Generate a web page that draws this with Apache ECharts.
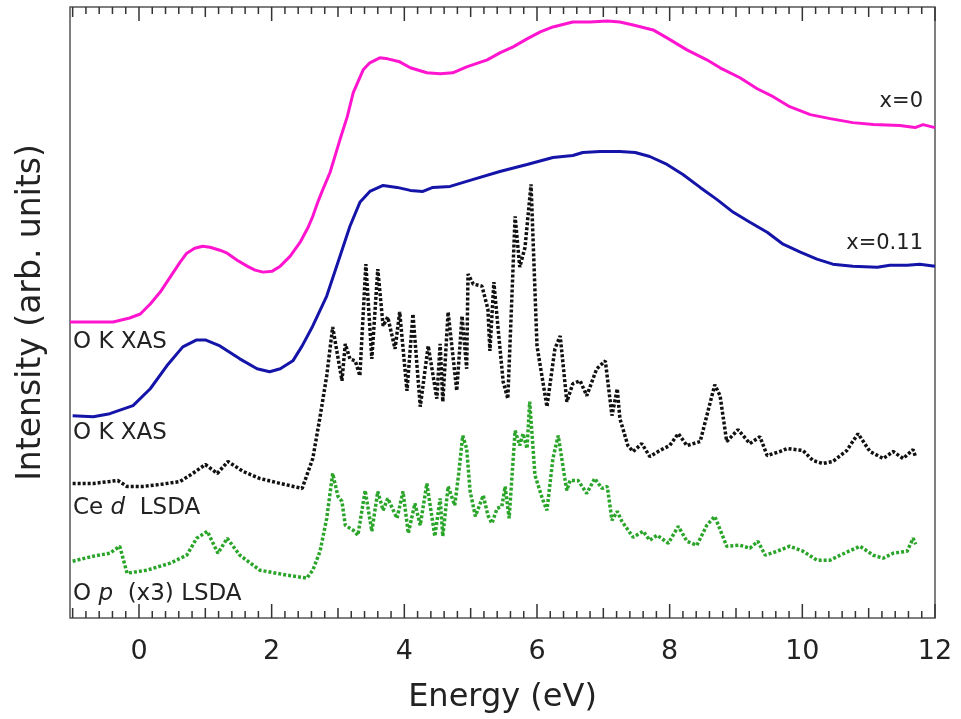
<!DOCTYPE html>
<html>
<head>
<meta charset="utf-8">
<script src="https://cdn.jsdelivr.net/npm/echarts@6/dist/echarts.min.js"></script>
<style>
html, body { margin: 0; padding: 0; background: #fff; }
#chart { width: 961px; height: 719px; }
</style>
</head>
<body>
<div id="chart"></div>
<script>
// energy (eV), intensity (arb. units)
const xasX0 = [
    [-1.04, 297], [-0.74, 297], [-0.39, 297], [-0.14, 301], [0.02, 305], [0.17, 315], [0.32, 327],
    [0.47, 342], [0.62, 357], [0.72, 366], [0.84, 371], [0.96, 373], [1.07, 372], [1.22, 369],
    [1.33, 366], [1.48, 359], [1.63, 353], [1.75, 349], [1.87, 347], [2.01, 348], [2.13, 353],
    [2.28, 363], [2.43, 377], [2.55, 392], [2.62, 403], [2.70, 418], [2.76, 428], [2.88, 447],
    [3.03, 480], [3.14, 503], [3.23, 527], [3.38, 550], [3.48, 557], [3.63, 562], [3.75, 561],
    [3.93, 558], [4.09, 552], [4.34, 547], [4.54, 546], [4.73, 547], [4.94, 553], [5.25, 560],
    [5.44, 567], [5.64, 573], [5.85, 581], [6.05, 588], [6.24, 593], [6.54, 598], [6.80, 598],
    [7.06, 599], [7.25, 598], [7.45, 595], [7.75, 590], [7.96, 582], [8.26, 570], [8.56, 560],
    [8.76, 552], [9.06, 542], [9.32, 531], [9.56, 523], [9.81, 513], [10.12, 505], [10.42, 501],
    [10.76, 497], [11.07, 495], [11.47, 494], [11.70, 492], [11.82, 495], [12.0, 492]
];
const xasX011 = [
    [-1.0, 203], [-0.69, 202], [-0.44, 205], [-0.09, 213], [0.17, 230], [0.42, 253], [0.66, 272],
    [0.87, 279], [1.0, 279], [1.22, 273], [1.52, 260], [1.78, 250], [1.97, 247], [2.13, 250],
    [2.32, 258], [2.46, 273], [2.62, 293], [2.83, 323], [3.03, 363], [3.18, 393], [3.33, 417],
    [3.48, 428], [3.68, 434], [3.89, 432], [4.09, 429], [4.28, 428], [4.43, 432], [4.69, 433],
    [5.04, 440], [5.44, 448], [5.85, 455], [6.24, 462], [6.54, 464], [6.69, 467], [6.95, 468],
    [7.25, 468], [7.48, 467], [7.70, 463], [7.96, 455], [8.20, 445], [8.46, 432], [8.71, 420],
    [8.96, 407], [9.21, 397], [9.47, 387], [9.71, 375], [9.97, 367], [10.22, 360], [10.46, 355],
    [10.76, 353], [11.13, 352], [11.32, 354], [11.58, 354], [11.77, 355], [12.0, 353]
];
const ceD = [
    [-1.0, 135], [-0.69, 135], [-0.44, 137], [-0.32, 138], [-0.18, 132], [0.06, 132], [0.32, 134],
    [0.62, 137], [0.81, 145], [1.0, 154], [1.18, 145], [1.34, 157], [1.57, 147], [1.82, 140],
    [2.13, 135], [2.46, 130], [2.62, 160], [2.73, 202], [2.83, 243], [2.92, 292], [3.06, 238],
    [3.11, 275], [3.18, 260], [3.26, 258], [3.33, 243], [3.42, 355], [3.51, 260], [3.60, 350],
    [3.68, 293], [3.75, 302], [3.86, 270], [3.93, 307], [4.04, 228], [4.13, 305], [4.24, 212],
    [4.36, 273], [4.49, 220], [4.54, 275], [4.58, 217], [4.66, 307], [4.79, 228], [4.87, 303],
    [4.94, 250], [4.96, 345], [5.04, 335], [5.17, 333], [5.26, 310], [5.29, 268], [5.35, 337],
    [5.41, 293], [5.49, 237], [5.56, 220], [5.67, 403], [5.74, 352], [5.82, 372], [5.91, 435],
    [6.0, 273], [6.15, 212], [6.27, 270], [6.35, 283], [6.45, 217], [6.54, 235], [6.65, 238],
    [6.75, 223], [6.90, 250], [7.03, 258], [7.13, 203], [7.21, 230], [7.25, 200], [7.37, 173],
    [7.45, 167], [7.58, 175], [7.70, 162], [7.85, 168], [8.0, 173], [8.13, 185], [8.26, 173],
    [8.46, 177], [8.56, 203], [8.68, 234], [8.76, 223], [8.86, 177], [9.03, 189], [9.21, 175],
    [9.36, 182], [9.47, 163], [9.66, 167], [9.77, 170], [10.01, 168], [10.16, 158], [10.31, 155],
    [10.46, 157], [10.67, 168], [10.84, 185], [11.02, 167], [11.22, 160], [11.37, 167],
    [11.52, 160], [11.67, 169], [11.71, 161]
];
const oP = [
    [-1.0, 57], [-0.69, 62], [-0.44, 65], [-0.29, 72], [-0.18, 45], [0.12, 48], [0.47, 55],
    [0.72, 63], [0.87, 80], [1.03, 87], [1.19, 65], [1.33, 80], [1.52, 63], [1.82, 48],
    [2.23, 43], [2.53, 40], [2.62, 48], [2.73, 67], [2.83, 100], [2.92, 145], [3.0, 122],
    [3.06, 117], [3.11, 93], [3.23, 88], [3.30, 83], [3.41, 128], [3.51, 87], [3.60, 127],
    [3.68, 108], [3.75, 120], [3.89, 100], [3.98, 127], [4.06, 85], [4.16, 115], [4.24, 93],
    [4.34, 135], [4.46, 82], [4.54, 120], [4.58, 82], [4.66, 132], [4.76, 113], [4.82, 145],
    [4.88, 183], [4.94, 170], [4.99, 128], [5.07, 102], [5.19, 123], [5.26, 103], [5.32, 95],
    [5.40, 110], [5.47, 112], [5.52, 132], [5.58, 100], [5.67, 188], [5.74, 173], [5.79, 185],
    [5.85, 170], [5.89, 217], [5.97, 143], [6.08, 120], [6.15, 108], [6.24, 160], [6.32, 183],
    [6.42, 140], [6.45, 128], [6.50, 138], [6.62, 138], [6.75, 125], [6.87, 140], [6.98, 130],
    [7.06, 132], [7.13, 98], [7.21, 107], [7.28, 97], [7.45, 81], [7.60, 87], [7.70, 78],
    [7.81, 83], [7.98, 75], [8.13, 92], [8.26, 77], [8.41, 73], [8.56, 93], [8.68, 102],
    [8.86, 72], [9.06, 73], [9.21, 70], [9.33, 77], [9.44, 63], [9.62, 67], [9.81, 72],
    [10.01, 67], [10.22, 58], [10.42, 58], [10.57, 63], [10.87, 72], [11.07, 63], [11.22, 60],
    [11.37, 65], [11.58, 67], [11.67, 80], [11.71, 74]
];

// axis ticks: labelled every 2 eV, medium every 1 eV, minor every 0.2 eV
const majorTicks = [0, 2, 4, 6, 8, 10, 12];
const midTicks = [-1, 1, 3, 5, 7, 9, 11];
const minorTicks = [];
for (let i = -5; i <= 60; i++) {
    if (i % 5 !== 0) minorTicks.push(+(i * 0.2).toFixed(1));
}

const xMin = -1.04;
const xMax = 12;
const yMax = 613;
const FONT = 'DejaVu Sans';
const FRAME = '#555';

const labelStyle = { fontSize: 23, fontFamily: FONT, fill: '#222' };
const italic = { i: { fontStyle: 'italic', fontSize: 23, fontFamily: FONT, fill: '#222' } };

const textItems = [
    { type: 'text', x: 923, y: 102, style: Object.assign({ text: 'x=0', align: 'right', verticalAlign: 'middle' }, labelStyle, { fontSize: 21 }) },
    { type: 'text', x: 923, y: 244, style: Object.assign({ text: 'x=0.11', align: 'right', verticalAlign: 'middle' }, labelStyle, { fontSize: 21 }) },
    { type: 'text', x: 73, y: 342, style: Object.assign({ text: 'O K XAS', verticalAlign: 'middle' }, labelStyle) },
    { type: 'text', x: 73, y: 433, style: Object.assign({ text: 'O K XAS', verticalAlign: 'middle' }, labelStyle) },
    { type: 'text', x: 73, y: 508, style: Object.assign({ text: 'Ce {i|d}  LSDA', verticalAlign: 'middle', rich: italic }, labelStyle) },
    { type: 'text', x: 73, y: 594, style: Object.assign({ text: 'O {i|p}  (x3) LSDA', verticalAlign: 'middle', rich: italic }, labelStyle) }
];

const chart = echarts.init(document.getElementById('chart'));
chart.setOption({
    animation: false,
    backgroundColor: '#fff',
    grid: {
        left: 70, right: 26, top: 7, bottom: 99,
        show: true, borderColor: FRAME, borderWidth: 1.5
    },
    xAxis: {
        type: 'value', min: xMin, max: xMax,
        axisLine: { show: false }, axisTick: { show: false }, splitLine: { show: false },
        axisLabel: {
            show: true, customValues: majorTicks, margin: 20,
            fontSize: 27, fontFamily: FONT, color: '#222'
        },
        name: 'Energy (eV)', nameLocation: 'middle', nameGap: 64,
        nameTextStyle: { fontSize: 32, fontFamily: FONT, color: '#222' }
    },
    yAxis: {
        type: 'value', min: 0, max: yMax,
        axisLine: { show: false }, axisTick: { show: false },
        axisLabel: { show: false }, splitLine: { show: false },
        name: 'Intensity (arb. units)', nameLocation: 'middle', nameGap: 22,
        nameTextStyle: { fontSize: 33, fontFamily: FONT, color: '#222' }
    },
    series: [
        {
            name: 'x=0', type: 'line', data: xasX0, showSymbol: false,
            lineStyle: { color: '#ff14cf', width: 3 }
        },
        {
            name: 'x=0.11', type: 'line', data: xasX011, showSymbol: false,
            lineStyle: { color: '#1414a8', width: 3 }
        },
        {
            name: 'Ce d LSDA', type: 'line', data: ceD, showSymbol: false,
            lineStyle: { color: '#111', width: 3.5, type: [3, 2] }
        },
        {
            name: 'O p (x3) LSDA', type: 'line', data: oP, showSymbol: false,
            lineStyle: { color: '#2aa52a', width: 3.5, type: [3, 2] }
        }
    ],
    graphic: textItems
});

// tick marks placed through the chart's own x scale, after layout
function tickRects (values, len) {
    const out = [];
    values.forEach(function (v) {
        const b = chart.convertToPixel({ gridIndex: 0 }, [v, 0]);
        const t = chart.convertToPixel({ gridIndex: 0 }, [v, yMax]);
        out.push({ type: 'rect', z: 100, shape: { x: b[0] - 0.75, y: b[1] - len, width: 1.5, height: len }, style: { fill: '#333' } });
        out.push({ type: 'rect', z: 100, shape: { x: t[0] - 0.75, y: t[1], width: 1.5, height: len }, style: { fill: '#333' } });
    });
    return out;
}
const ticks = tickRects(majorTicks, 14)
    .concat(tickRects(midTicks, 10))
    .concat(tickRects(minorTicks, 7));

chart.setOption({ graphic: textItems.concat(ticks) });
</script>
</body>
</html>
